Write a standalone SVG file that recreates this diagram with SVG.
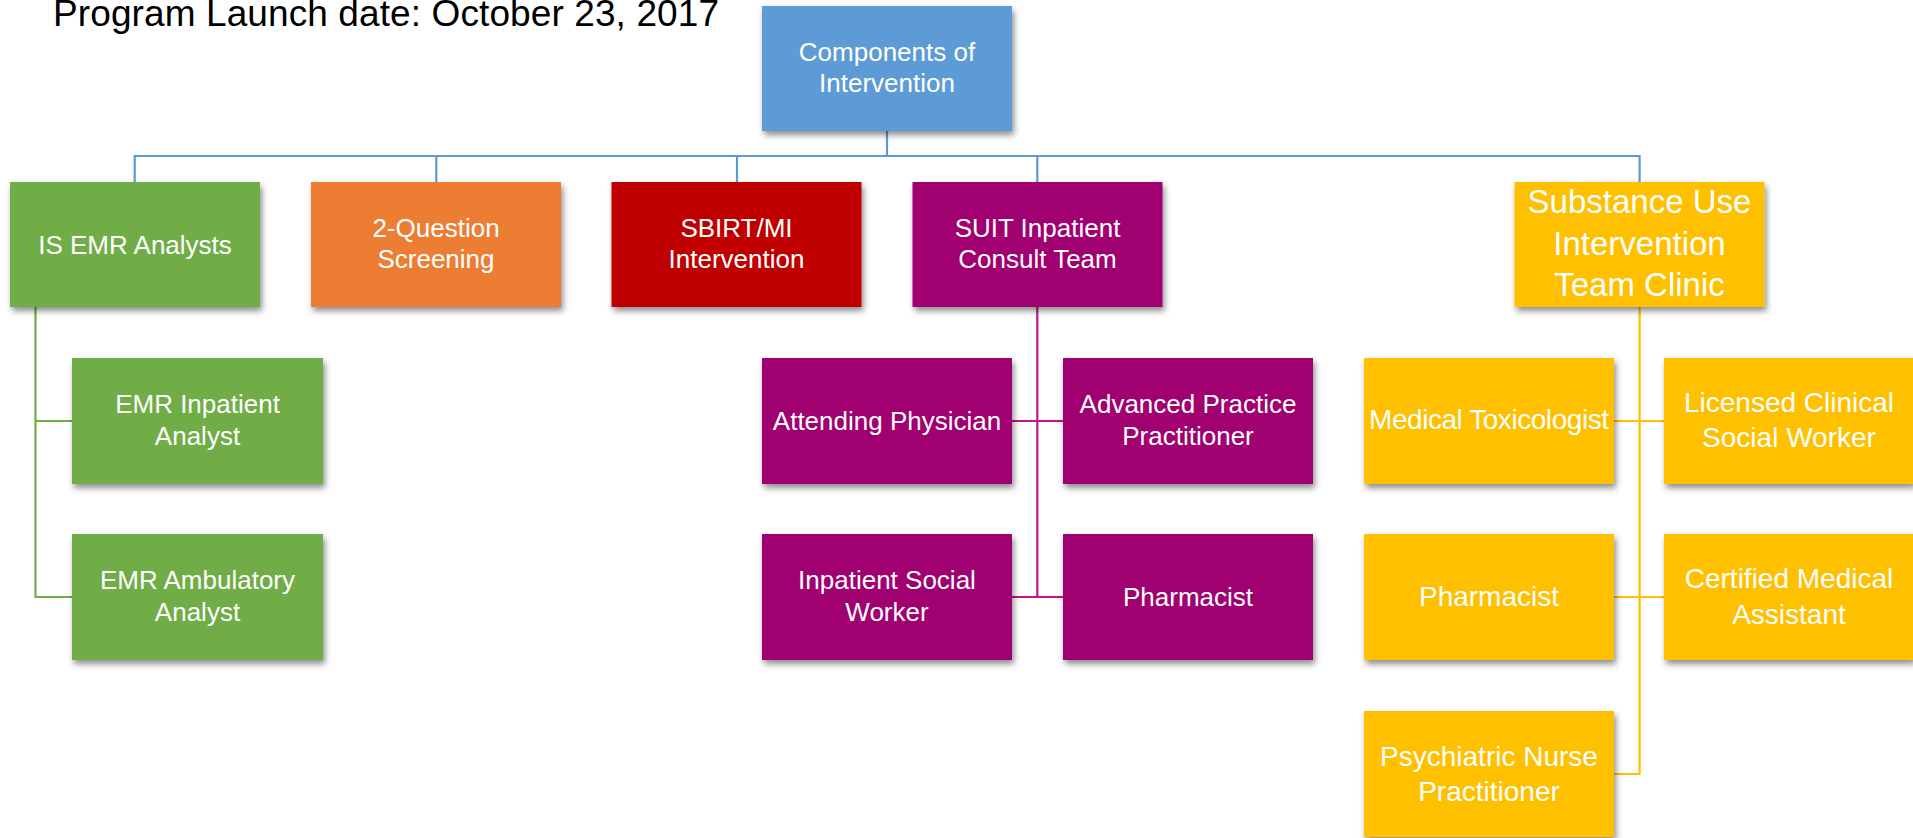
<svg xmlns="http://www.w3.org/2000/svg" width="1913" height="838" viewBox="0 0 1913 838">
  <defs>
    <filter id="shadow" x="-10%" y="-10%" width="125%" height="130%">
      <feDropShadow dx="2" dy="4" stdDeviation="3" flood-color="#000" flood-opacity="0.45"/>
    </filter>
    <style>
      .box { filter: url(#shadow); }
      .blue { fill: #5B9BD5; }
      .green { fill: #70AD47; }
      .orange { fill: #ED7D31; }
      .red { fill: #C00000; }
      .purple { fill: #A0006F; }
      .amber { fill: #FFC000; }
      .lbl { font-family: "Liberation Sans", Arial, sans-serif; font-size: 26px; fill: #FFFFFF; text-anchor: middle; }
      .lbl-amber { font-size: 28px; }
      .lbl-big { font-size: 33px; }
      .title { font-family: "Liberation Sans", Arial, sans-serif; font-size: 37px; fill: #000000; }
      .conn { fill: none; stroke-width: 2.2; }
      .c-blue { stroke: #5B9BD5; }
      .c-green { stroke: #70AD47; }
      .c-purple { stroke: #C0148C; }
      .c-amber { stroke: #FFC000; }
    </style>
  </defs>

  <rect x="0" y="0" width="1913" height="838" fill="#FFFFFF"/>

  <text class="title" x="53" y="25.5" textLength="666">Program Launch date: October 23, 2017</text>

  <!-- connectors -->
  <g id="connectors">
    <path class="conn c-blue" d="M887 131 V156 M134.7 182 V156 H1639.6 V182 M436.3 156 V182 M737 156 V182 M1037.3 156 V182"/>
    <path class="conn c-green" d="M35.5 307 V597 H72 M35.5 421 H72"/>
    <path class="conn c-purple" d="M1037.3 307 V597 M1012 421 H1063 M1012 597 H1063"/>
    <path class="conn c-amber" d="M1639.6 307 V774 H1614 M1614 421 H1664 M1614 597 H1664"/>
  </g>

  <!-- root -->
  <g id="node-components">
    <rect class="box blue" x="762" y="6" width="250" height="125"/>
    <text class="lbl" x="887" y="61">Components of</text>
    <text class="lbl" x="887" y="92">Intervention</text>
  </g>

  <!-- first level -->
  <g id="node-is-emr">
    <rect class="box green" x="10" y="182" width="250" height="125"/>
    <text class="lbl" x="135" y="253.5">IS EMR Analysts</text>
  </g>
  <g id="node-screening">
    <rect class="box orange" x="311" y="182" width="250" height="125"/>
    <text class="lbl" x="436" y="236.5">2-Question</text>
    <text class="lbl" x="436" y="268">Screening</text>
  </g>
  <g id="node-sbirt">
    <rect class="box red" x="611.5" y="182" width="250" height="125"/>
    <text class="lbl" x="736.5" y="236.5">SBIRT/MI</text>
    <text class="lbl" x="736.5" y="268">Intervention</text>
  </g>
  <g id="node-suit">
    <rect class="box purple" x="912.5" y="182" width="250" height="125"/>
    <text class="lbl" x="1037.5" y="236.5">SUIT Inpatient</text>
    <text class="lbl" x="1037.5" y="268">Consult Team</text>
  </g>
  <g id="node-clinic">
    <rect class="box amber" x="1514.5" y="182" width="250" height="125"/>
    <text class="lbl lbl-big" x="1639.5" y="213">Substance Use</text>
    <text class="lbl lbl-big" x="1639.5" y="255">Intervention</text>
    <text class="lbl lbl-big" x="1639.5" y="296">Team Clinic</text>
  </g>

  <!-- IS EMR team -->
  <g id="node-emr-inpatient">
    <rect class="box green" x="72" y="358" width="251" height="126"/>
    <text class="lbl" x="197.5" y="413">EMR Inpatient</text>
    <text class="lbl" x="197.5" y="444.5">Analyst</text>
  </g>
  <g id="node-emr-ambulatory">
    <rect class="box green" x="72" y="534" width="251" height="126"/>
    <text class="lbl" x="197.5" y="589">EMR Ambulatory</text>
    <text class="lbl" x="197.5" y="620.5">Analyst</text>
  </g>

  <!-- SUIT inpatient team -->
  <g id="node-attending">
    <rect class="box purple" x="762" y="358" width="250" height="126"/>
    <text class="lbl" x="887" y="430">Attending Physician</text>
  </g>
  <g id="node-app">
    <rect class="box purple" x="1063" y="358" width="250" height="126"/>
    <text class="lbl" x="1188" y="413">Advanced Practice</text>
    <text class="lbl" x="1188" y="444.5">Practitioner</text>
  </g>
  <g id="node-inpatient-sw">
    <rect class="box purple" x="762" y="534" width="250" height="126"/>
    <text class="lbl" x="887" y="589">Inpatient Social</text>
    <text class="lbl" x="887" y="620.5">Worker</text>
  </g>
  <g id="node-suit-pharmacist">
    <rect class="box purple" x="1063" y="534" width="250" height="126"/>
    <text class="lbl" x="1188" y="606">Pharmacist</text>
  </g>

  <!-- clinic team -->
  <g id="node-toxicologist">
    <rect class="box amber" x="1364" y="358" width="250" height="126"/>
    <text class="lbl lbl-amber" x="1489" y="429" textLength="240">Medical Toxicologist</text>
  </g>
  <g id="node-lcsw">
    <rect class="box amber" x="1664" y="358" width="250" height="126"/>
    <text class="lbl lbl-amber" x="1789" y="411.5">Licensed Clinical</text>
    <text class="lbl lbl-amber" x="1789" y="447">Social Worker</text>
  </g>
  <g id="node-clinic-pharmacist">
    <rect class="box amber" x="1364" y="534" width="250" height="126"/>
    <text class="lbl lbl-amber" x="1489" y="606">Pharmacist</text>
  </g>
  <g id="node-cma">
    <rect class="box amber" x="1664" y="534" width="250" height="126"/>
    <text class="lbl lbl-amber" x="1789" y="588">Certified Medical</text>
    <text class="lbl lbl-amber" x="1789" y="623.5">Assistant</text>
  </g>
  <g id="node-pnp">
    <rect class="box amber" x="1364" y="711" width="250" height="126"/>
    <text class="lbl lbl-amber" x="1489" y="766">Psychiatric Nurse</text>
    <text class="lbl lbl-amber" x="1489" y="800.5">Practitioner</text>
  </g>
</svg>
